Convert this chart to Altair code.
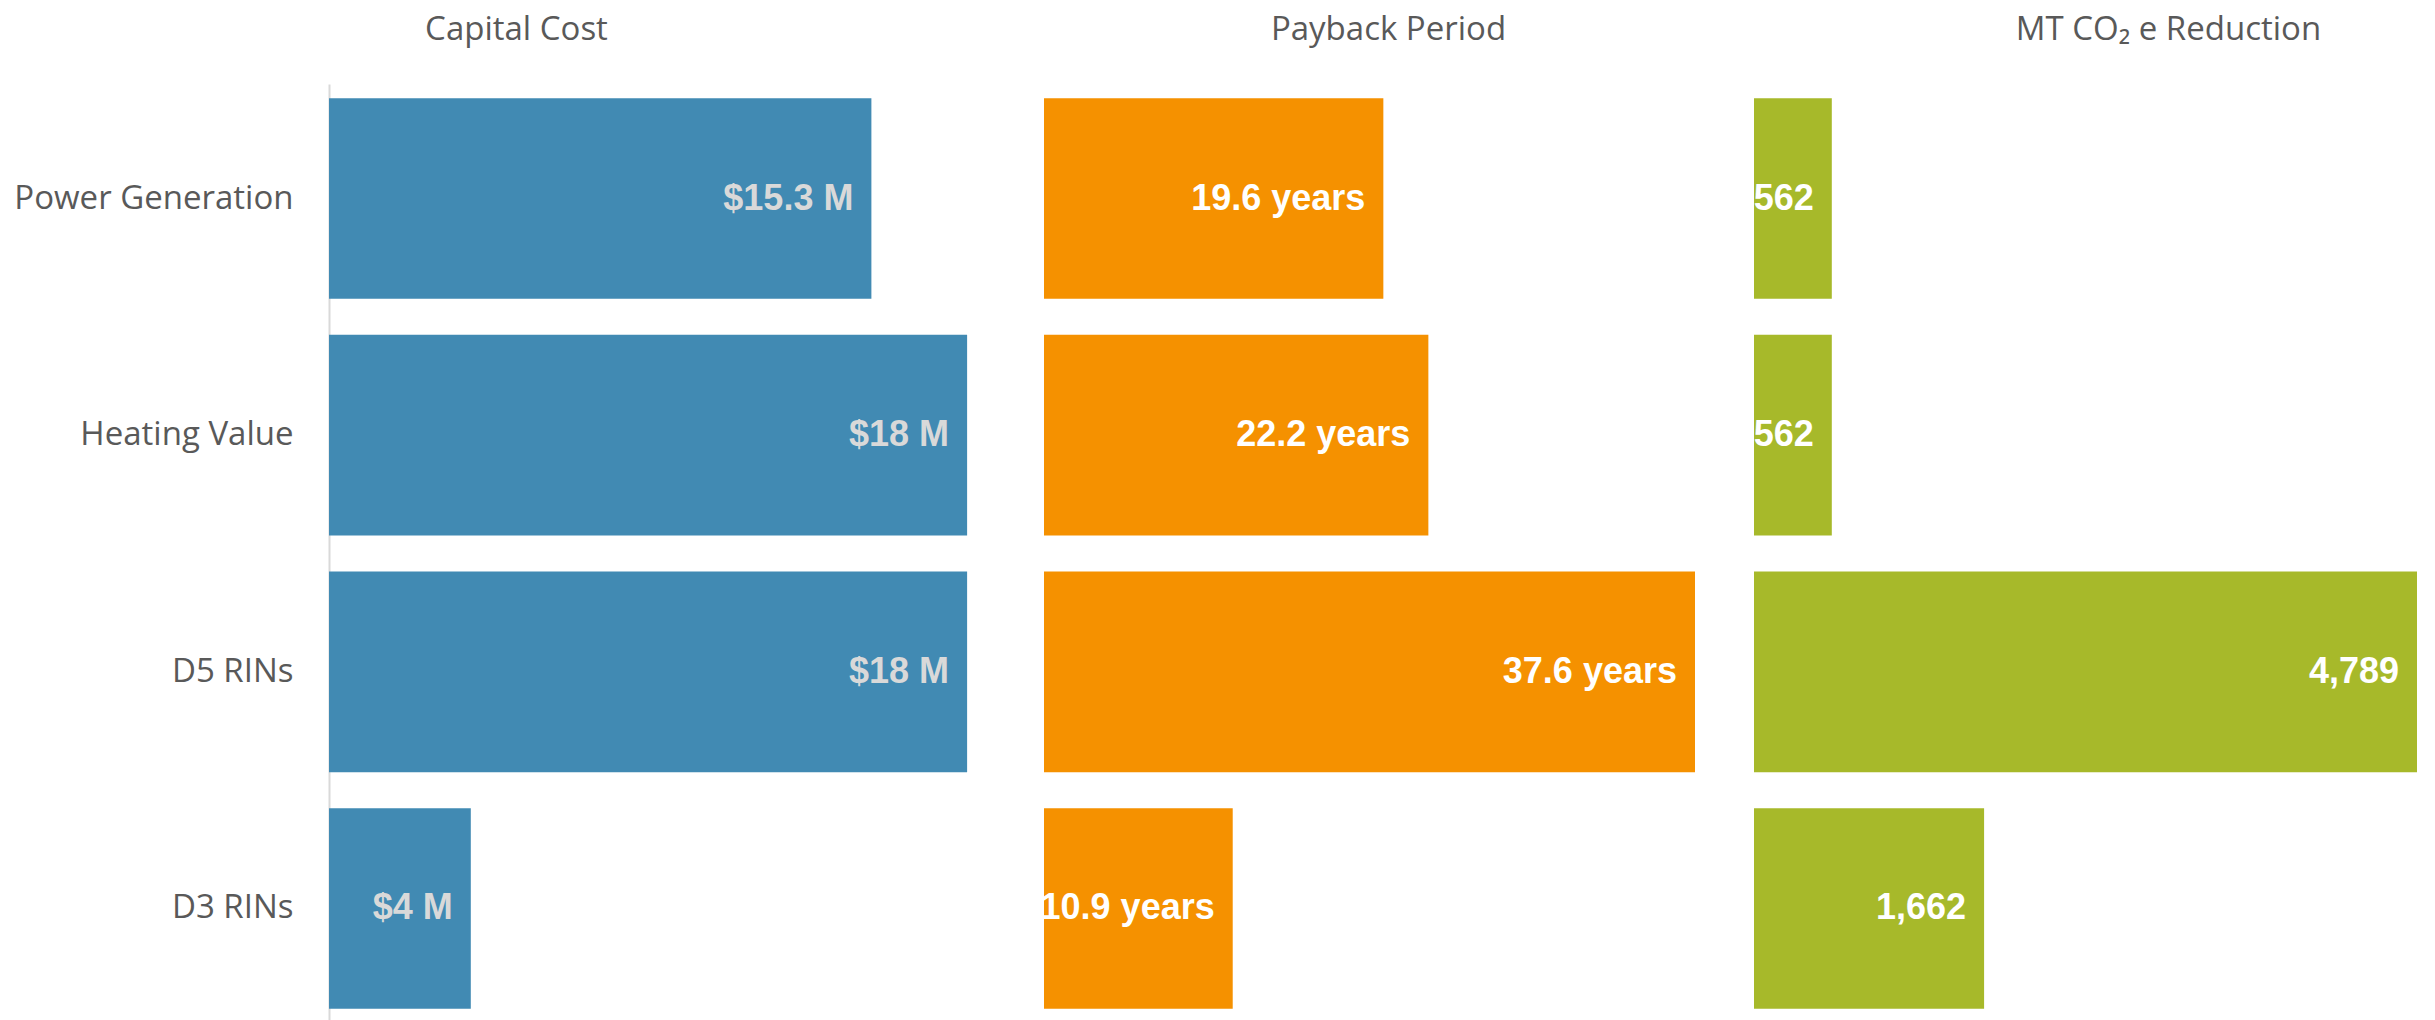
import altair as alt
import pandas as pd

categories = ["Power Generation", "Heating Value", "D5 RINs", "D3 RINs"]
capital_cost = [15.3, 18, 18, 4]
payback_years = [19.6, 22.2, 37.6, 10.9]
co2_reduction = [562, 562, 4789, 1662]

capital_labels = ["$15.3 M", "$18 M", "$18 M", "$4 M"]
payback_labels = ["19.6 years", "22.2 years", "37.6 years", "10.9 years"]
co2_labels = ["562", "562", "4,789", "1,662"]

TEXT_GREY = "#595959"
LABEL_FONT = "Open Sans"
VALUE_FONT = "Liberation Sans"
PLOT_H = 939


def panel(values, labels, title, color, label_color, width, domain_max, dx, show_y):
    df = pd.DataFrame({"category": categories, "value": values, "label": labels})
    if show_y:
        y_axis = alt.Axis(
            title=None, ticks=False, grid=False, labelFont=LABEL_FONT,
            labelFontSize=33, labelColor=TEXT_GREY, labelPadding=36,
            labelLimit=400, domainColor="#d9d9d9", domainWidth=2,
            minExtent=328, maxExtent=328,
        )
    else:
        y_axis = None
    y = alt.Y("category:N", sort=categories, axis=y_axis,
              scale=alt.Scale(paddingInner=0.152, paddingOuter=0.06))
    x = alt.X("value:Q", axis=None,
              scale=alt.Scale(domain=[0, domain_max], nice=False, zero=True))
    base = alt.Chart(df)
    bars = base.mark_bar(color=color).encode(x=x, y=y)
    text = base.mark_text(
        align="right", baseline="middle", dx=-18, font=VALUE_FONT,
        fontSize=36, fontWeight="bold", color=label_color,
    ).encode(x=x, y=y, text="label:N")
    return (bars + text).properties(
        width=width, height=PLOT_H,
        title=alt.Title(title, dx=dx),
    )


p1 = panel(capital_cost, capital_labels, "Capital Cost", "#418AB3", "#d9d9d9",
           653, 18.42, -139, True)
p2 = panel(payback_years, payback_labels, "Payback Period", "#F59100", "#ffffff",
           651, 37.6, 19, False)
p3 = panel(co2_reduction, co2_labels, "MT CO\u2082 e Reduction", "#A7B92A", "#ffffff",
           663, 4789, 83, False)

chart = alt.hconcat(p1, p2, p3, spacing=58).properties(
    padding={"left": 1, "top": 14, "right": 10, "bottom": 0},
    background="white",
).configure_view(stroke=None).configure_title(
    font=LABEL_FONT, fontSize=33, fontWeight="normal", color=TEXT_GREY,
    anchor="middle", frame="group", baseline="alphabetic", offset=37,
)

chart.save("out.html", embed_options={"renderer": "svg", "actions": False})
